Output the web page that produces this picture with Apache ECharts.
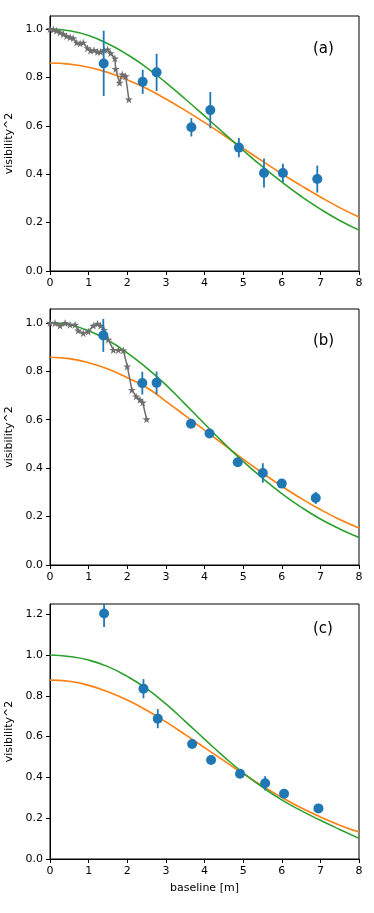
<!DOCTYPE html>
<html>
<head>
<meta charset="utf-8">
<script src="https://cdn.jsdelivr.net/npm/echarts@6/dist/echarts.min.js"></script>
<style>
  html, body { margin: 0; padding: 0; background: #fff; }
  #main { width: 374px; height: 913px; }
</style>
</head>
<body>
<div id="main"></div>
<script type="text/javascript">
    // model curves, every 0.5 m
    var curveX  = [0,0.5,1,1.5,2,2.5,3,3.5,4,4.5,5,5.5,6,6.5,7,7.5,8];
    var greenA  = [1.0,0.993,0.973,0.939,0.895,0.841,0.779,0.711,0.641,0.570,0.499,0.431,0.368,0.309,0.256,0.209,0.169];
    var orangeA = [0.860,0.855,0.842,0.820,0.790,0.754,0.711,0.664,0.614,0.561,0.507,0.454,0.402,0.353,0.306,0.262,0.223];
    var greenB  = [1.0,0.992,0.967,0.928,0.876,0.814,0.744,0.664,0.583,0.503,0.428,0.359,0.295,0.239,0.190,0.149,0.114];
    var orangeB = [0.858,0.852,0.835,0.809,0.773,0.733,0.676,0.617,0.557,0.497,0.437,0.380,0.325,0.275,0.229,0.188,0.153];
    var greenC  = [1.0,0.993,0.975,0.943,0.895,0.835,0.760,0.675,0.588,0.502,0.422,0.352,0.290,0.237,0.190,0.145,0.101];
    var orangeC = [0.877,0.871,0.851,0.820,0.779,0.729,0.672,0.610,0.546,0.482,0.418,0.358,0.302,0.251,0.206,0.166,0.132];

    // measured visibilities with error bars
    var baseA = [1.39,2.40,2.76,3.66,4.15,4.89,5.54,6.03,6.92];
    var visA  = [0.858,0.782,0.821,0.594,0.665,0.510,0.405,0.405,0.380];
    var errA  = [0.135,0.050,0.077,0.038,0.075,0.040,0.060,0.038,0.056];
    var baseB = [1.38,2.39,2.76,3.65,4.13,4.86,5.51,6.00,6.88];
    var visB  = [0.948,0.751,0.752,0.583,0.543,0.424,0.380,0.336,0.277];
    var errB  = [0.068,0.047,0.047,0.010,0.010,0.015,0.040,0.012,0.025];
    var baseC = [1.40,2.42,2.79,3.68,4.17,4.92,5.57,6.06,6.95];
    var visC  = [1.203,0.835,0.688,0.564,0.485,0.418,0.371,0.320,0.248];
    var errC  = [0.066,0.047,0.047,0.010,0.010,0.012,0.035,0.015,0.020];

    // grey star tracks (panels a and b only)
    var starXA = [0,0.09,0.17,0.26,0.35,0.43,0.52,0.60,0.69,0.78,0.86,0.97,1.05,1.14,1.23,1.31,1.40,1.49,1.57,1.68,1.70,1.80,1.87,1.96,2.04];
    var starYA = [1.0,0.998,0.993,0.986,0.979,0.971,0.966,0.962,0.944,0.941,0.944,0.921,0.911,0.913,0.906,0.906,0.913,0.916,0.900,0.879,0.835,0.778,0.812,0.805,0.709];
    var starXB = [0,0.13,0.26,0.39,0.52,0.65,0.73,0.86,0.99,1.12,1.23,1.31,1.40,1.51,1.64,1.77,1.90,2.00,2.12,2.23,2.33,2.40,2.50];
    var starYB = [1.0,0.999,0.988,0.999,0.992,0.992,0.968,0.957,0.964,0.988,0.996,0.988,0.971,0.930,0.888,0.888,0.886,0.820,0.723,0.696,0.682,0.671,0.602];

    var xTicks = [0,1,2,3,4,5,6,7,8];
    var yTicksAB = [0,0.2,0.4,0.6,0.8,1.0];
    var yTicksC  = [0,0.2,0.4,0.6,0.8,1.0,1.2];
    var panelNames = ['(a)','(b)','(c)'];

    var myChart = echarts.init(document.getElementById('main'), null, {renderer: 'canvas'});

    var font = 'DejaVu Sans';
    var starPath = 'path://M50 0 L61.2 34.5 L97.6 34.5 L68.2 55.9 L79.4 90.5 L50 69.1 L20.6 90.5 L31.8 55.9 L2.4 34.5 L38.8 34.5 Z';

    function pairs(xs, ys){
        var out = [];
        for (var i = 0; i < xs.length; i++) out.push([xs[i], ys[i]]);
        return out;
    }
    function errData(xs, ys, es){
        var out = [];
        for (var i = 0; i < xs.length; i++) out.push([xs[i], ys[i] - es[i], ys[i] + es[i]]);
        return out;
    }
    function errRender(params, api){
        var hi = api.coord([api.value(0), api.value(2)]);
        var lo = api.coord([api.value(0), api.value(1)]);
        var cs = params.coordSys;
        return {
            type: 'line',
            shape: {x1: hi[0], y1: Math.max(hi[1], cs.y), x2: lo[0], y2: Math.min(lo[1], cs.y + cs.height)},
            style: {stroke: '#1f77b4', lineWidth: 1.8}
        };
    }

    var grids = [
        {left: 50, right: 15, top: 16,  height: 255},
        {left: 50, right: 15, top: 309, height: 256},
        {left: 50, right: 15, top: 604, height: 255}
    ];
    var yMax = [1.054, 1.057, 1.25];
    var labelTop = [42, 334, 622];
    var panels = [
        {g: greenA, o: orangeA, bx: baseA, v: visA, e: errA, sx: starXA, sy: starYA},
        {g: greenB, o: orangeB, bx: baseB, v: visB, e: errB, sx: starXB, sy: starYB},
        {g: greenC, o: orangeC, bx: baseC, v: visC, e: errC, sx: null,   sy: null}
    ];

    var xAxes = [], yAxes = [], series = [], graphics = [];
    for (var p = 0; p < 3; p++){
        grids[p].show = true;
        grids[p].borderColor = '#000';
        grids[p].borderWidth = 1;
        grids[p].backgroundColor = 'transparent';
        grids[p].containLabel = false;
        grids[p].outerBoundsMode = 'none';
        xAxes.push({
            gridIndex: p, type: 'value', min: 0, max: 8, interval: 1,
            axisLine: {show: true, onZero: false, lineStyle: {color: '#000', width: 1}},
            axisTick: {show: true, length: 4, lineStyle: {color: '#000'}, customValues: xTicks},
            axisLabel: {color: '#000', fontSize: 11, fontFamily: font, margin: 7, customValues: xTicks},
            splitLine: {show: false},
            name: p === 2 ? 'baseline [m]' : '',
            nameLocation: 'middle', nameGap: 24,
            nameTextStyle: {color: '#000', fontSize: 11, fontFamily: font}
        });
        var yt = p === 2 ? yTicksC : yTicksAB;
        yAxes.push({
            gridIndex: p, type: 'value', min: 0, max: yMax[p],
            axisLine: {show: true, onZero: false, lineStyle: {color: '#000', width: 1}},
            axisTick: {show: true, length: 4, lineStyle: {color: '#000'}, customValues: yt},
            axisLabel: {color: '#000', fontSize: 11, fontFamily: font, margin: 7, customValues: yt,
                        formatter: function(v){ return v.toFixed(1); }},
            splitLine: {show: false},
            name: 'visibility^2', nameLocation: 'middle', nameGap: 32,
            nameTextStyle: {color: '#000', fontSize: 11, fontFamily: font}
        });

        var d = panels[p];
        series.push({
            type: 'line', xAxisIndex: p, yAxisIndex: p, data: pairs(curveX, d.o),
            smooth: true, showSymbol: false, silent: true, z: 2,
            lineStyle: {color: '#ff7f0e', width: 1.6}
        });
        series.push({
            type: 'line', xAxisIndex: p, yAxisIndex: p, data: pairs(curveX, d.g),
            smooth: true, showSymbol: false, silent: true, z: 2,
            lineStyle: {color: '#2ca02c', width: 1.6}
        });
        if (d.sx){
            series.push({
                type: 'line', xAxisIndex: p, yAxisIndex: p, data: pairs(d.sx, d.sy),
                symbol: starPath, symbolSize: 8, showSymbol: true, silent: true, z: 3,
                lineStyle: {color: '#6e6e6e', width: 1.5},
                itemStyle: {color: '#6e6e6e', borderWidth: 0}
            });
        }
        series.push({
            type: 'custom', xAxisIndex: p, yAxisIndex: p, data: errData(d.bx, d.v, d.e),
            renderItem: errRender, encode: {x: 0, y: [1, 2]}, silent: true, z: 4
        });
        series.push({
            type: 'scatter', xAxisIndex: p, yAxisIndex: p, data: pairs(d.bx, d.v),
            symbol: 'circle', symbolSize: 10, silent: true, z: 5,
            itemStyle: {color: '#1f77b4', opacity: 1}
        });

        graphics.push({
            type: 'text', left: 313, top: labelTop[p],
            style: {text: panelNames[p], fill: '#000', font: '15px "DejaVu Sans"'}
        });
    }

    var option = {
        backgroundColor: '#fff',
        animation: false,
        grid: grids,
        xAxis: xAxes,
        yAxis: yAxes,
        graphic: graphics,
        series: series
    };
    myChart.setOption(option);
</script>
</body>
</html>
